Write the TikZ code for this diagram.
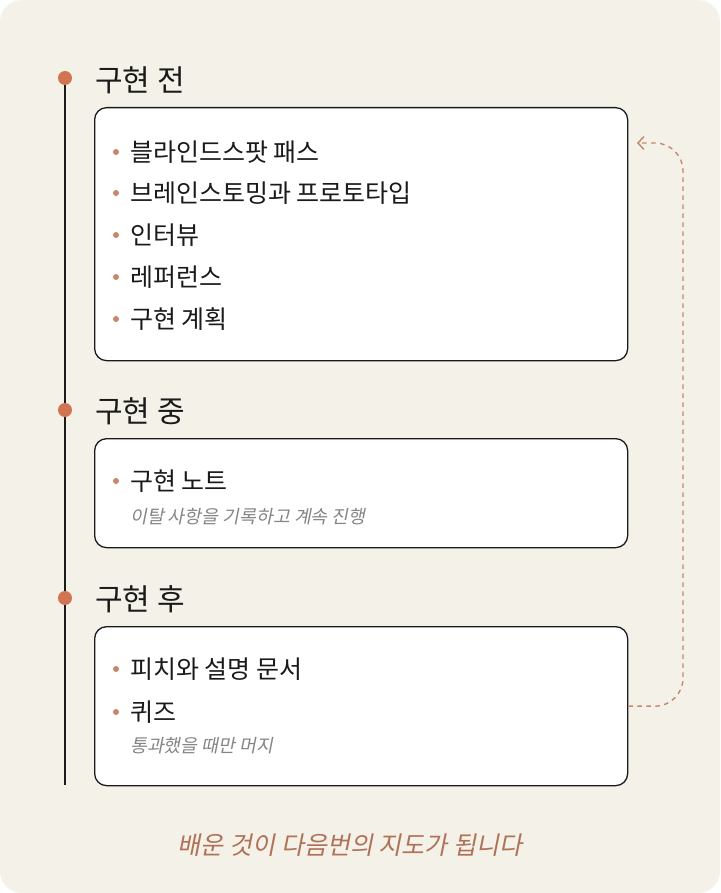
\documentclass[tikz,border=0pt]{standalone}
\usepackage{fontspec}
\setmainfont{Noto Sans CJK KR}[AutoFakeSlant=0.2]
\usetikzlibrary{arrows.meta}
\definecolor{paper}{HTML}{F3F1E8}
\definecolor{rust}{HTML}{D27352}
\definecolor{clay}{HTML}{C8866C}
\definecolor{ink}{HTML}{1A1A1A}
\definecolor{note}{HTML}{858585}
\definecolor{motto}{HTML}{B07257}

\begin{document}
\begin{tikzpicture}[x=1pt, y=-1pt,
    card/.style={draw=ink, line width=1.3pt, fill=white, rounded corners=12pt,
                 anchor=north west, inner sep=0pt, minimum width=533pt},
    stage/.style={anchor=west, inner sep=0pt, text=ink, font=\fontsize{30}{34}\selectfont},
    item/.style={anchor=west, inner sep=0pt, text=ink, font=\fontsize{25}{29}\selectfont},
    sub/.style={anchor=west, inner sep=0pt, text=note, font=\fontsize{18.3}{22}\selectfont\itshape},
    dot/.style={circle, fill=rust, inner sep=0pt, minimum size=14pt},
    pip/.style={circle, fill=clay, inner sep=0pt, minimum size=6pt},
    loopback/.style={draw=clay, line width=1.4pt, dash pattern=on 4.5pt off 4.5pt,
                     rounded corners=28pt, -{Straight Barb[length=6pt, width=13pt]}}]

    \useasboundingbox (0,0) rectangle (720,893);
    \fill[white] (0,0) rectangle (720,893);
    \fill[paper, rounded corners=22pt] (0,0) rectangle (720,893);

    % timeline
    \coordinate (start) at (65,78);
    \coordinate (end) at (65,785);
    \draw[ink, line width=2pt] (start) -- (end);
    \node[dot] (d1) at (65,78) {};
    \node[dot] (d2) at (65,410) {};
    \node[dot] (d3) at (65,598) {};

    \node[stage] (before) at (95,80) {구현 전};
    \node[stage] (during) at (95,411) {구현 중};
    \node[stage] (after) at (95,599) {구현 후};

    % cards
    \node[card, minimum height=253pt] (pre) at (94,107) {};
    \node[card, minimum height=109pt] (mid) at (94,438) {};
    \node[card, minimum height=159pt] (post) at (94,626) {};

    \foreach \n/\y/\t in {i1/152/블라인드스팟 패스, i2/193/브레인스토밍과 프로토타입,
                          i3/235/인터뷰, i4/277/레퍼런스, i5/319/구현 계획,
                          i6/481/구현 노트, i7/669/피치와 설명 문서, i8/712/퀴즈} {
        \node[pip] at (116,\y) {};
        \node[item] (\n) at (130,\y) {\t};
    }
    \node[sub] (s6) at (130,517) {이탈 사항을 기록하고 계속 진행};
    \node[sub] (s8) at (130,746) {통과했을 때만 머지};

    % loop back
    \coordinate (back) at (637,143);
    \draw[loopback] (post.east) -| (683,143) -- (back);

    \node[text=motto, font=\fontsize{25}{29}\selectfont\itshape] (motto) at (350,845)
        {배운 것이 다음번의 지도가 됩니다};
\end{tikzpicture}
\end{document}
